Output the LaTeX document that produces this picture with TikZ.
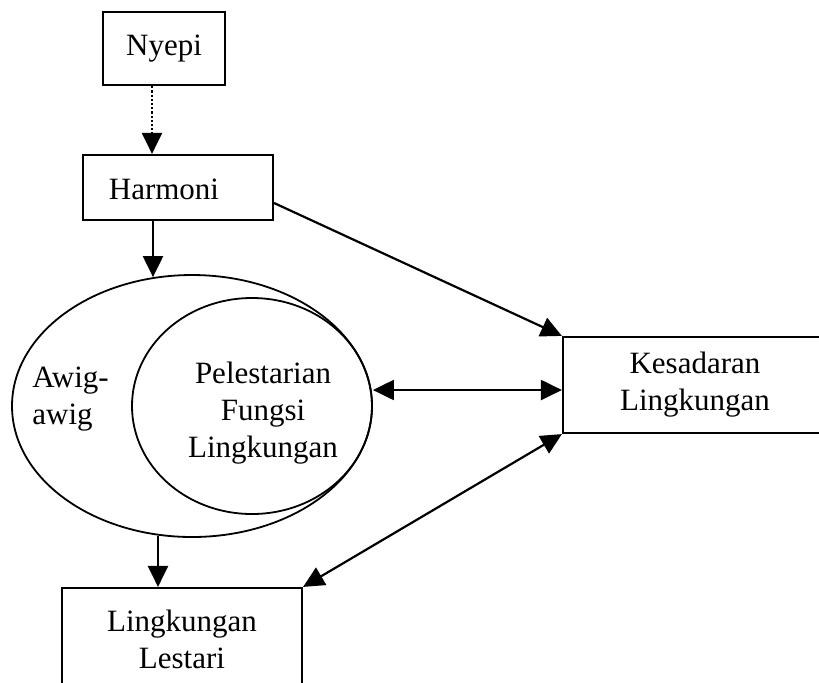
\documentclass[tikz,border=0pt]{standalone}
\usepackage{fontspec}
\setmainfont{Liberation Serif}
\usetikzlibrary{shapes.geometric,arrows.meta}
\newcommand\diagfont{\fontsize{15.5}{18.5}\selectfont}
\begin{document}
\begin{tikzpicture}[x=0.5pt,y=-0.5pt,
  box/.style={draw, line width=1.1pt, inner sep=0pt, align=center, font=\diagfont},
  ell/.style={draw, ellipse, line width=0.9pt, inner sep=0pt},
  arr/.style={line width=1.1pt, -{Triangle[length=10.5pt,width=10pt]}},
  darr/.style={line width=1.1pt, {Triangle[length=10.5pt,width=10pt]}-{Triangle[length=10.5pt,width=10pt]}},
  lbl/.style={font=\diagfont, inner sep=0pt}]
\useasboundingbox (0,0) rectangle (819,682);
\node[box, minimum width=61pt, minimum height=36.5pt] (nyepi) at (164,48.5) {Nyepi};
\node[box, minimum width=95pt, minimum height=32.5pt] (harmoni) at (178,187.5) {};
\node[lbl] (harmonitext) at (164,189) {Harmoni};
\node[ell, minimum width=180pt, minimum height=131pt] (outer) at (192,406) {};
\node[ell, minimum width=120pt, minimum height=108pt] (inner) at (252,406) {};
\node[lbl, anchor=west, align=left] (awig) at (32,399) {Awig-\\awig};
\node[lbl, align=center] (pel) at (263,413.5) {Pelestarian\\Fungsi\\Lingkungan};
\node[box, minimum width=132pt, minimum height=48pt] (kes) at (695,385) {Kesadaran\\Lingkungan};
\node[box, minimum width=120pt, minimum height=51.5pt] (les) at (182,639.5) {Lingkungan\\Lestari};
\draw[arr, densely dotted] ([xshift=-6pt]nyepi.south) -- ([xshift=-6pt]nyepi.south |- harmoni.north);
\draw[arr] ([xshift=-12.5pt]harmoni.south) -- ([xshift=-12.5pt,yshift=-1.5pt]harmoni.south |- outer.north);
\draw[arr] ([xshift=-12pt]les.north |- outer.south) ++(0,-2) -- ([xshift=-12pt]les.north);
\draw[arr] ([yshift=-7.75pt]harmoni.east) -- (kes.north west);
\draw[darr] ([yshift=8pt]inner.east) -- ([yshift=8pt]inner.east -| kes.west);
\draw[darr] (kes.south west) -- (les.north east);
\end{tikzpicture}
\end{document}
